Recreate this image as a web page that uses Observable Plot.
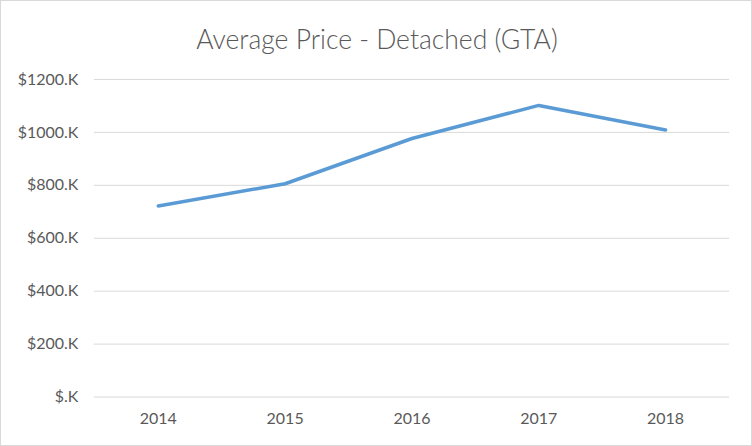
<!DOCTYPE html>
<html>
<head>
<meta charset="utf-8">
<script src="https://cdn.jsdelivr.net/npm/d3@7"></script>
<script src="https://cdn.jsdelivr.net/npm/@observablehq/plot@0.6"></script>
<style>
  html, body { margin: 0; padding: 0; background: #fff; }
  #chart { position: relative; width: 752px; height: 446px; box-sizing: border-box; border: 1px solid #d9d9d9; overflow: hidden; }
  #title { position: absolute; left: 0; top: 20px; width: 752px; text-align: center; font-family: Lato, "Open Sans", sans-serif; font-weight: 300; font-size: 26.5px; color: #595959; line-height: 36px; }
  #plot { position: absolute; left: -1px; top: 59px; }
</style>
</head>
<body>
<div id="chart">
  <div id="title">Average Price - Detached (GTA)</div>
  <div id="plot"></div>
</div>
<script>
const years = ["2014", "2015", "2016", "2017", "2018"];
const prices = [722, 806, 977, 1102, 1009]; // thousands of dollars
const yTicks = [0, 200, 400, 600, 800, 1000, 1200];

const data = years.map((y, i) => ({year: y, price: prices[i]}));
const fmt = d => "$" + (d === 0 ? "" : d) + ".K";

const chart = Plot.plot({
  width: 752,
  height: 387,
  marginTop: 19,
  marginBottom: 50,
  marginLeft: 94,
  marginRight: 22,
  style: {fontFamily: "Lato, 'Open Sans', sans-serif", fontSize: "16px", color: "#595959", background: "transparent"},
  x: {type: "point", domain: years, padding: 0.5, label: null},
  y: {domain: [0, 1200], label: null},
  marks: [
    Plot.ruleY(yTicks, {stroke: "#d9d9d9", strokeWidth: 1}),
    Plot.axisY({ticks: yTicks, tickSize: 0, tickPadding: 16, tickFormat: fmt, label: null, fontSize: 16}),
    Plot.axisX({tickSize: 0, tickPadding: 16, label: null, fontSize: 16}),
    Plot.line(data, {x: "year", y: "price", stroke: "#5b9bd5", strokeWidth: 3.5, strokeLinecap: "round", strokeLinejoin: "round"})
  ]
});
document.getElementById("plot").appendChild(chart);
</script>
</body>
</html>
